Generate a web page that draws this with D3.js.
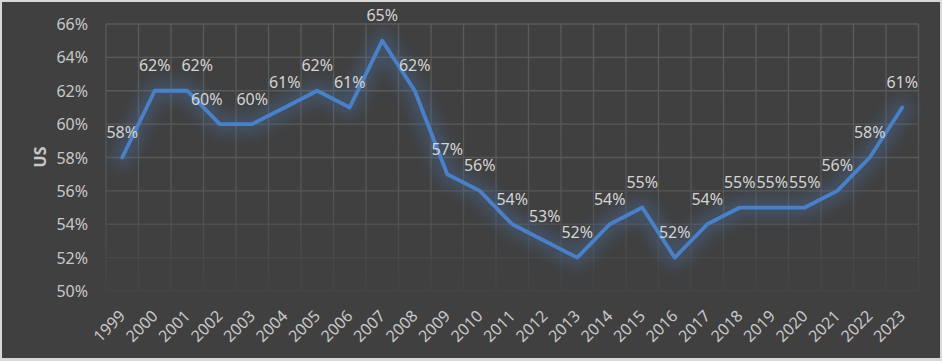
<!DOCTYPE html>
<html>
<head>
<meta charset="utf-8">
<script src="https://cdn.jsdelivr.net/npm/d3@7"></script>
<style>
  html, body { margin: 0; padding: 0; background: #d9d9d9; }
  svg { display: block; }
</style>
</head>
<body>
<svg id="chart" width="942" height="361"></svg>
<script>
// ---- data ----
const years = ["1999","2000","2001","2002","2003","2004","2005","2006","2007","2008","2009","2010","2011","2012","2013","2014","2015","2016","2017","2018","2019","2020","2021","2022","2023"];
const usShare = [0.58,0.62,0.62,0.60,0.60,0.61,0.62,0.61,0.65,0.62,0.57,0.56,0.54,0.53,0.52,0.54,0.55,0.52,0.54,0.55,0.55,0.55,0.56,0.58,0.61];
const yTicks = [0.50,0.52,0.54,0.56,0.58,0.60,0.62,0.64,0.66];
const yTitle = "US";

// label nudges (manual label placement as in the reference)
const labelShift = {"2001": 10, "2002": -13};

const W = 942, H = 361;
const plot = {left: 106, right: 918.5, top: 24, bottom: 291};

const svg = d3.select("#chart");
const defs = svg.append("defs");

const grad = defs.append("linearGradient")
  .attr("id", "gridFade").attr("gradientUnits", "userSpaceOnUse")
  .attr("x1", 0).attr("x2", 0).attr("y1", plot.top).attr("y2", plot.bottom);
grad.append("stop").attr("offset", "0%").attr("stop-color", "#5b5b5b");
grad.append("stop").attr("offset", "62%").attr("stop-color", "#565656");
grad.append("stop").attr("offset", "100%").attr("stop-color", "#434343");

const glow = defs.append("filter").attr("id", "glow")
  .attr("x", "-10%").attr("y", "-30%").attr("width", "120%").attr("height", "160%");
glow.append("feGaussianBlur").attr("stdDeviation", 7);

// background
svg.append("rect").attr("x", 0).attr("y", 0).attr("width", W).attr("height", H).attr("fill", "#d9d9d9");
svg.append("rect").attr("x", 2).attr("y", 2).attr("width", W - 4).attr("height", H - 5).attr("fill", "#404040");

const x = d3.scaleBand().domain(years).range([plot.left, plot.right]).padding(0);
const y = d3.scaleLinear().domain([0.50, 0.66]).range([plot.bottom, plot.top]);
const cx = d => x(d) + x.bandwidth() / 2;

const fmt = d3.format(".0%");

// grid
const g = svg.append("g");
g.selectAll("line.h").data(yTicks).join("line")
  .attr("x1", plot.left).attr("x2", plot.right)
  .attr("y1", d => y(d)).attr("y2", d => y(d))
  .attr("stroke", "url(#gridFade)").attr("stroke-width", 1.3);
const vlines = years.map(d => x(d)).concat([plot.right]);
g.selectAll("line.v").data(vlines).join("line")
  .attr("x1", d => d).attr("x2", d => d)
  .attr("y1", plot.top).attr("y2", plot.bottom)
  .attr("stroke", "url(#gridFade)").attr("stroke-width", 1.3);

// y axis labels
const yAxis = d3.axisLeft(y).tickValues(yTicks).tickFormat(fmt).tickSize(0).tickPadding(18);
const ya = svg.append("g").attr("transform", `translate(${plot.left},0)`).call(yAxis);
ya.select(".domain").remove();
ya.selectAll("text")
  .attr("font-family", "'Noto Sans', sans-serif").attr("font-size", 16)
  .attr("fill", "#c8c8c8").attr("dy", "0.35em");

// x axis labels
const xa = svg.append("g");
xa.selectAll("text").data(years).join("text")
  .attr("transform", d => `translate(${cx(d) + 4},317) rotate(-45)`)
  .attr("text-anchor", "end")
  .attr("font-family", "'Noto Sans', sans-serif").attr("font-size", 16)
  .attr("fill", "#c8c8c8")
  .text(d => d);

// y title
svg.append("text")
  .attr("transform", "translate(46,157) rotate(-90)")
  .attr("text-anchor", "middle")
  .attr("font-family", "'Noto Sans', sans-serif").attr("font-size", 16).attr("font-weight", "bold")
  .attr("fill", "#c8c8c8")
  .text(yTitle);

// line
const pts = years.map((d, i) => [cx(d), y(usShare[i])]);
const line = d3.line();
svg.append("path").attr("d", line(pts))
  .attr("fill", "none").attr("stroke", "#4a7fc6").attr("stroke-opacity", 0.28)
  .attr("stroke-width", 20).attr("stroke-linejoin", "round").attr("stroke-linecap", "round")
  .attr("filter", "url(#glow)");
svg.append("path").attr("d", line(pts))
  .attr("fill", "none").attr("stroke", "#4a80c8")
  .attr("stroke-width", 3.8).attr("stroke-linejoin", "round").attr("stroke-linecap", "round");

// data labels
svg.append("g").selectAll("text").data(years).join("text")
  .attr("x", d => cx(d) + (labelShift[d] || 0))
  .attr("y", (d, i) => y(usShare[i]) - 25)
  .attr("dy", "0.35em")
  .attr("text-anchor", "middle")
  .attr("font-family", "'Noto Sans', sans-serif").attr("font-size", 16)
  .attr("fill", "#d4d4d4")
  .text((d, i) => fmt(usShare[i]));
</script>
</body>
</html>
